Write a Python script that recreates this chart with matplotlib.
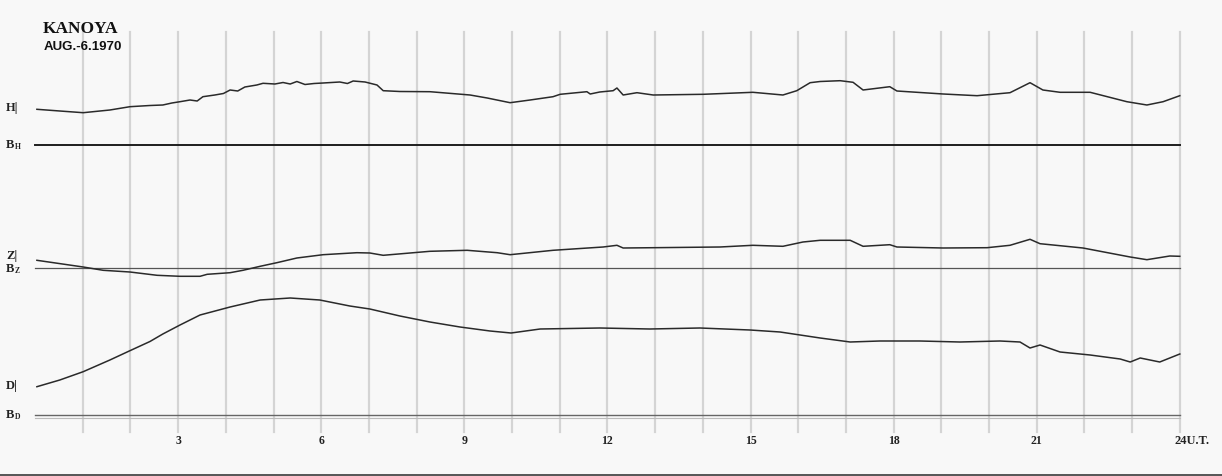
import matplotlib
matplotlib.use("Agg")
import matplotlib.pyplot as plt

# ---- data (hours UT, trace deflection above its baseline, in chart units) ----
h_hours = [0.04, 0.52, 1.01, 1.57, 1.99, 2.41, 2.68, 2.87, 3.04, 3.25, 3.40, 3.52, 3.77, 3.95,
           4.09, 4.25, 4.40, 4.65, 4.78, 5.03, 5.20, 5.35, 5.49, 5.66, 5.85, 6.04, 6.39, 6.55,
           6.67, 6.92, 7.17, 7.30, 7.65, 8.28,
           9.12, 9.48, 9.96, 10.38, 10.86, 11.01, 11.57, 11.64, 11.84, 12.12, 12.20, 12.33,
           12.62, 12.96, 14.01, 15.05, 15.68, 15.97, 16.25, 16.46, 16.88, 17.15, 17.36, 17.92,
           18.07, 19.04, 19.75, 20.44, 20.86, 21.13, 21.49, 22.12, 22.89, 23.31, 23.65, 24.0]
h_vals = [35.7, 34, 32.3, 35, 38.3, 39.5, 40, 42, 43.3, 45, 44, 48.3, 50, 51.5,
          55, 54, 58, 60, 61.7, 61, 62.5, 61, 63.5, 60.5, 61.5, 62, 63, 61.5,
          64, 63, 60, 54.3, 53.5, 53.3,
          50, 47, 42.3, 45, 48.3, 50.7, 53.3, 51, 53, 54.3, 57, 50,
          52.3, 50, 50.7, 52.7, 50, 54.3, 62.3, 63.5, 64.3, 62.7, 55, 58.3,
          54, 51, 49.3, 52.3, 62.3, 55, 52.7, 52.7, 43.3, 40, 43.3, 49.3]

z_hours = [0.04, 1.01, 1.43, 1.99, 2.56, 3.04, 3.46, 3.61, 4.09, 4.36, 4.72, 5.07, 5.49, 6.04,
           6.75, 7.02, 7.30, 8.28, 9.06, 9.69, 9.96, 10.86, 11.91, 12.20, 12.33, 12.96, 14.36,
           15.05, 15.68, 16.10, 16.46, 17.09, 17.36, 17.92, 18.07, 19.04, 19.96, 20.44, 20.86,
           21.07, 21.97, 22.96, 23.31, 23.79, 24.0]
z_vals = [7.7, 1, -2.3, -4, -7.3, -8.3, -8.3, -6.3, -4.7, -2.3, 1.7, 5.3, 10, 13.3,
          15.3, 15, 12.7, 16.7, 17.7, 15.3, 13.3, 17.7, 21, 22.7, 20, 20.3, 21,
          22.7, 21.7, 26, 27.7, 27.7, 21.7, 23.3, 21, 20, 20.3, 22.7, 28.7,
          24.3, 20, 11, 8.3, 12, 11.7]

d_hours = [0.04, 0.52, 1.01, 1.57, 1.99, 2.41, 2.68, 3.04, 3.46, 4.09, 4.72, 5.35, 5.97, 6.60,
           7.02, 7.65, 8.28, 8.91, 9.54, 9.98, 10.59, 11.84, 12.89, 13.94, 14.99, 15.62, 16.04,
           16.46, 17.09, 17.71, 18.55, 19.39, 20.23, 20.65, 20.86, 21.07, 21.49, 22.12, 22.75,
           22.96, 23.17, 23.58, 24.0]
d_vals = [28.3, 35, 43.3, 55, 64.3, 73.5, 81, 90, 100, 108, 115, 117, 115, 109,
          106, 99, 93, 88, 84, 82, 86, 87, 86, 87, 85, 83, 80,
          77, 73, 74, 74, 73, 74, 73, 67, 70, 63, 60, 56,
          53, 57, 53, 61]

hour_ticks = [3, 6, 9, 12, 15, 18, 21, 24]
tick_labels = ["3", "6", "9", "12", "15", "18", "21", "24U.T."]
station = "KANOYA"
date_text = "AUG.-6.1970"

# ---- layout ----
W, H = 1222, 476
px_per_hour = 47.7
x0_px = 35
base_h, base_z, base_d = H - 145, H - 268, H - 415
ink = "#2a2a2a"
grid = "#d4d4d4"
bg = "#f8f8f8"

fig = plt.figure(figsize=(W / 100, H / 100), dpi=100, facecolor=bg)
ax = fig.add_axes([0, 0, 1, 1])
ax.set_facecolor(bg)
ax.set_xlim(-x0_px / px_per_hour, (W - x0_px) / px_per_hour)
ax.set_ylim(0, H)
ax.axis("off")


def px(xp):
    return (xp - x0_px) / px_per_hour


# hour lines
for hr in range(1, 25):
    ax.plot([hr, hr], [H - 432, H - 32], color=grid, lw=1.6, zorder=1)

# baselines
ax.plot([0, 24], [base_h, base_h], color="#1e1e1e", lw=1.4, zorder=2)
ax.plot([0, 24], [base_z, base_z], color="#555555", lw=0.9, zorder=2)
ax.plot([0, 24], [base_d, base_d], color="#666666", lw=1.0, zorder=2)
ax.plot([0, 24], [base_d - 2.5, base_d - 2.5], color="#bbbbbb", lw=0.8, zorder=2)

# traces
ax.plot(h_hours, [base_h + v for v in h_vals], color=ink, lw=1.1, zorder=3)
ax.plot(z_hours, [base_z + v for v in z_vals], color=ink, lw=1.1, zorder=3)
ax.plot(d_hours, [base_d + v for v in d_vals], color=ink, lw=1.1, zorder=3)

# bottom border
ax.axhline(H - 474.5, color="#555555", lw=1.4, zorder=2)

# texts
serif = ["Liberation Serif", "DejaVu Serif"]
ax.text(px(43), H - 33, station, family=serif, fontsize=12.5, fontweight="bold",
        color="#111111", ha="left", va="baseline")
ax.text(px(44), H - 50, date_text, family=["Liberation Sans", "DejaVu Sans"],
        fontsize=9.5, fontweight="bold", color="#111111", ha="left", va="baseline")

lx = px(6)
for txt, ypx in [("H|", 108), ("Z|", 256), ("D|", 386)]:
    ax.text(lx, H - ypx, txt, family=serif, fontsize=9, fontweight="bold", color="#222222",
            ha="left", va="center")
for sub, ypx in [("H", 145), ("Z", 269), ("D", 415)]:
    ax.text(lx, H - ypx, "B", family=serif, fontsize=9, fontweight="bold", color="#222222",
            ha="left", va="center")
    ax.text(lx + 8.5 / px_per_hour, H - ypx - 2, sub, family=serif, fontsize=5.5,
            fontweight="bold", color="#222222", ha="left", va="center")

for hr, lab in zip(hour_ticks, tick_labels):
    if lab.startswith("24"):
        ax.text(hr - 5 / px_per_hour, H - 441, lab, family=serif, fontsize=9,
                fontweight="bold", color="#222222", ha="left", va="center")
    else:
        ax.text(hr, H - 441, lab, family=serif, fontsize=8.5, fontweight="bold",
                color="#222222", ha="center", va="center")

fig.savefig("out.png", dpi=100, facecolor=bg)
